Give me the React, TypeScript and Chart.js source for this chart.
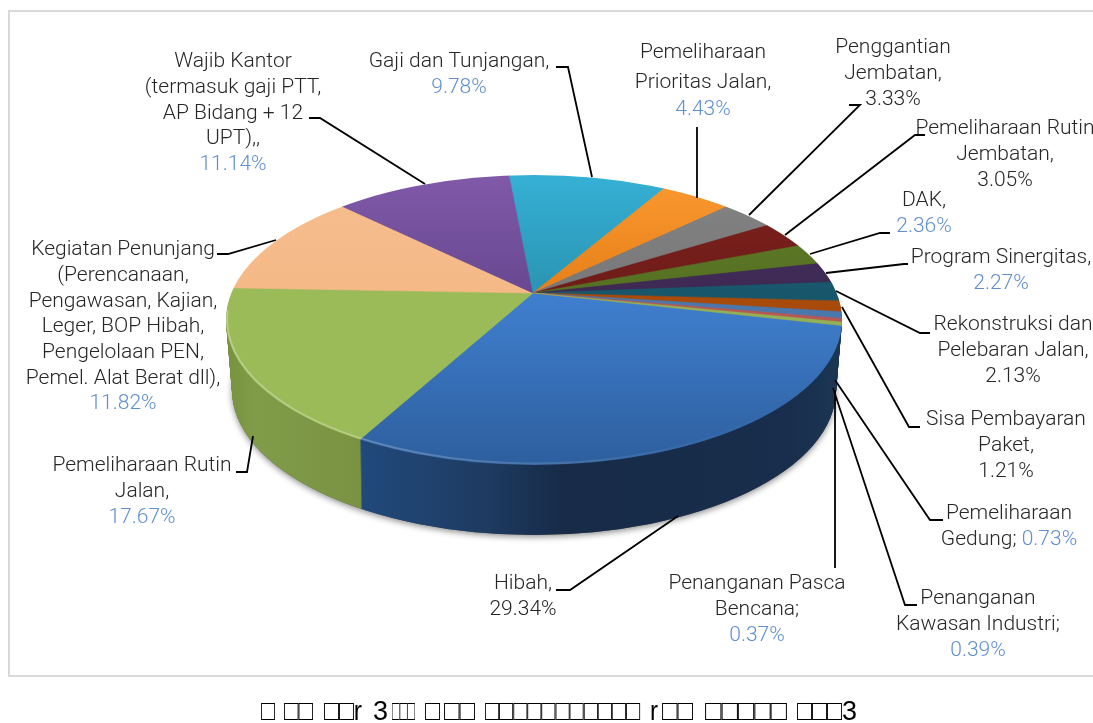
import React, { useEffect, useRef } from "react";
import { Chart, registerables } from "chart.js";

Chart.register(...registerables);

const categories = [
  "Hibah", "Pemeliharaan Rutin Jalan", "Kegiatan Penunjang", "Wajib Kantor", "Gaji dan Tunjangan",
  "Pemeliharaan Prioritas Jalan", "Penggantian Jembatan", "Pemeliharaan Rutin Jembatan", "DAK",
  "Program Sinergitas", "Rekonstruksi dan Pelebaran Jalan", "Sisa Pembayaran Paket",
  "Pemeliharaan Gedung", "Penanganan Kawasan Industri", "Penanganan Pasca Bencana",
];
const values = [29.34, 17.67, 11.82, 11.14, 9.78, 4.43, 3.33, 3.05, 2.36, 2.27, 2.13, 1.21, 0.73, 0.39, 0.37];

const faceLight = ["#3f7ecd", "#9bbb59", "#f7bd8c", "#8059a9", "#35b0d4", "#fb9a30", "#848484", "#7e211d", "#637f29", "#4a3263", "#1c6880", "#bd530b", "#5485bd", "#c4605f", "#9bbb59"];
const faceDark = ["#2d5f9e", "#9bbb59", "#f5b988", "#684890", "#2a94b3", "#e67f18", "#787878", "#6e1c19", "#557022", "#3e2953", "#18566b", "#a84a0a", "#4a78ad", "#b85856", "#93b154"];
const wallColor = ["#1b3352", "#7b9644", "#c49670", "#5a3f7c", "#248aa5", "#c4691a", "#5f5f5f", "#561815", "#425a1b", "#2f1f41", "#124454", "#7c3a08", "#35577f", "#8a3c3a", "#7a9644"];

const B = "\u25A1";
const captionRuns: [string, number, number][] = [
  [B, 261, 14], [B + B, 284, 29], [B + B + "r", 324, 38], ["3", 373, 15], [B + B + B, 392, 23], [B, 425, 15],
  [B + B, 444, 31], [B.repeat(11), 485, 155], ["r", 650, 8], [B + B, 662, 31], [B.repeat(5), 705, 82],
  [B.repeat(3), 797, 45], ["3", 842, 15],
];

const nameLines = [
  ["Hibah,"],
  ["Pemeliharaan Rutin", "Jalan,"],
  ["Kegiatan Penunjang", "(Perencanaan,", "Pengawasan, Kajian,", "Leger, BOP Hibah,", "Pengelolaan PEN,", "Pemel. Alat Berat dll),"],
  ["Wajib Kantor", "(termasuk gaji PTT,", "AP Bidang + 12", "UPT),,"],
  ["Gaji dan Tunjangan,"],
  ["Pemeliharaan", "Prioritas Jalan,"],
  ["Penggantian", "Jembatan,"],
  ["Pemeliharaan Rutin", "Jembatan,"],
  ["DAK,"],
  ["Program Sinergitas,"],
  ["Rekonstruksi dan", "Pelebaran Jalan,"],
  ["Sisa Pembayaran", "Paket,"],
  ["Pemeliharaan", "Gedung;"],
  ["Penanganan", "Kawasan Industri;"],
  ["Penanganan Pasca", "Bencana;"],
];
const darkValue = [true, false, false, false, false, false, true, true, false, false, true, true, false, false, false];
const inlineValue = [false, false, false, false, false, false, false, false, false, false, false, false, true, false, false];

// Layout of the annotation text and leader lines (not data)
const labelAnchor = [
  [523, 584], [142, 466], [123, 250], [233, 62], [459, 62], [703, 58], [893, 48], [1005, 129], [924, 201],
  [1001, 258], [1013, 325], [1006, 420], [1009, 514], [978, 599], [757, 584],
];
const firstLineShift: Record<number, number[]> = { 5: [-5, -1] };
const leaders = [
  [[556, 590], [570, 590], [678, 516]],
  [[236, 472], [247, 472], [253, 436]],
  [[217, 254], [228, 254], [276, 240]],
  [[309, 118], [320, 118], [425, 184]],
  [[556, 67], [568, 67], [592, 177]],
  [[697, 127], [697, 198]],
  [[849, 105], [860, 105], [749, 215]],
  [[925, 135], [915, 135], [785, 235]],
  [[890, 233], [880, 233], [810, 254]],
  [[908, 264], [904, 264], [826, 273]],
  [[930, 333], [920, 333], [836, 291]],
  [[920, 427], [909, 427], [842, 307]],
  [[943, 520], [930, 520], [835, 380]],
  [[917, 605], [905, 605], [833, 388]],
  [[835, 568], [835, 390]],
];

const APEX_X = 533, APEX_Y = 293, CX = 534, CY = 320, RX = 308, RY = 145, DEPTH = 70, TILT = 0.46, REACH = 420;
const FONT = "300 21px Roboto, 'Open Sans', sans-serif";
const TEXT_DARK = "#262626", TEXT_BLUE = "#5f8fce", LINE_H = 25.7;

const arcOptions = (fill: any, border: number) => ({
  backgroundColor: fill, borderColor: fill, borderWidth: border, borderAlign: "center",
  borderRadius: 0, spacing: 0, offset: 0, circular: true, borderJoinStyle: "round", borderDash: [], borderDashOffset: 0,
});

const pie3d = {
  id: "pie3d",
  beforeDatasetsDraw(chart: any) {
    const { ctx } = chart;
    const arcs = chart.getDatasetMeta(0).data as any[];
    const r = arcs[0].outerRadius, ax = arcs[0].x, ay = arcs[0].y, s = REACH / r;
    const lx = (sx: number) => ax + (sx - APEX_X) / s;
    const ly = (sy: number) => ay + (sy - APEX_Y) / (s * TILT);

    const layer = (d: number, rx: number, fills: any[], border: number) => {
      ctx.save();
      ctx.beginPath();
      ctx.ellipse(CX, CY + d, rx, RY, 0, 0, Math.PI * 2);
      ctx.clip();
      ctx.translate(APEX_X, APEX_Y + d);
      ctx.scale(s, s * TILT);
      ctx.translate(-ax, -ay);
      arcs.forEach((arc, i) => {
        const p = Object.create(arc);
        p.options = arcOptions(fills[i], border);
        p.draw(ctx);
      });
      ctx.restore();
    };

    // soft shadow under the body
    ctx.save();
    ctx.shadowColor = "rgba(0,0,0,0.45)";
    ctx.shadowBlur = 6;
    ctx.shadowOffsetY = 2;
    ctx.fillStyle = "#555";
    ctx.beginPath();
    ctx.ellipse(CX, CY + DEPTH, RX - 6, RY, 0, 0, Math.PI * 2);
    ctx.fill();
    ctx.restore();

    // wall
    const blue = ctx.createLinearGradient(lx(362), 0, lx(840), 0);
    blue.addColorStop(0, "#21497b");
    blue.addColorStop(0.25, "#1e3c62");
    blue.addColorStop(0.42, "#172b48");
    blue.addColorStop(0.9, "#182e4c");
    blue.addColorStop(1, "#1b3654");
    const green = ctx.createLinearGradient(lx(226), 0, lx(366), 0);
    green.addColorStop(0, "#76923f");
    green.addColorStop(0.2, "#809c49");
    green.addColorStop(1, "#799242");
    const wallFills = wallColor.map((c, i) => (i === 0 ? blue : i === 1 ? green : c));
    for (let d = DEPTH; d >= 1; d--) layer(d, RX - (6 * d) / DEPTH, wallFills, 0);

    // top face
    const topFills = faceLight.map((c, i) => {
      const g = i === 0
        ? ctx.createLinearGradient(0, ly(300), 0, ly(465))
        : ctx.createLinearGradient(0, ly(176), 0, ly(293));
      g.addColorStop(0, c);
      g.addColorStop(1, faceDark[i]);
      return g;
    });
    layer(0, RX, topFills, 0.6);

    // lit rim along the front edge, fading toward the right
    ctx.save();
    const rim = ctx.createLinearGradient(226, 0, 760, 0);
    rim.addColorStop(0, "rgba(255,255,255,0.28)");
    rim.addColorStop(0.3, "rgba(255,255,255,0.22)");
    rim.addColorStop(1, "rgba(255,255,255,0)");
    ctx.strokeStyle = rim;
    ctx.lineWidth = 2;
    ctx.beginPath();
    ctx.ellipse(CX, CY - 0.5, RX - 1, RY - 1, 0, Math.PI * 0.15, Math.PI * 1.02);
    ctx.stroke();
    ctx.restore();
    return false;
  },
  afterDraw(chart: any) {
    const { ctx } = chart;
    ctx.save();
    // frame
    ctx.strokeStyle = "#d9d9d9";
    ctx.lineWidth = 2;
    ctx.strokeRect(9, 11, 1086, 665);
    // leaders
    ctx.strokeStyle = "#000";
    ctx.lineWidth = 1.8;
    leaders.forEach((pts) => {
      ctx.beginPath();
      pts.forEach(([x, y], j) => (j ? ctx.lineTo(x, y) : ctx.moveTo(x, y)));
      ctx.stroke();
    });
    // labels
    ctx.font = FONT;
    ctx.textBaseline = "middle";
    ctx.textAlign = "left";
    categories.forEach((_, i) => {
      const [cx, y0] = labelAnchor[i];
      const val = values[i].toFixed(2) + "%";
      const lines = nameLines[i];
      const valColor = darkValue[i] ? TEXT_DARK : TEXT_BLUE;
      lines.forEach((line, k) => {
        const y = y0 + k * LINE_H + (firstLineShift[i]?.[k] ?? 0);
        if (inlineValue[i] && k === lines.length - 1) {
          const a = line + " ";
          const wa = ctx.measureText(a).width, wb = ctx.measureText(val).width;
          const x = cx - (wa + wb) / 2;
          ctx.fillStyle = TEXT_DARK;
          ctx.fillText(a, x, y);
          ctx.fillStyle = TEXT_BLUE;
          ctx.fillText(val, x + wa, y);
        } else {
          ctx.fillStyle = TEXT_DARK;
          ctx.fillText(line, cx - ctx.measureText(line).width / 2, y);
        }
      });
      if (!inlineValue[i]) {
        ctx.fillStyle = valColor;
        ctx.fillText(val, cx - ctx.measureText(val).width / 2, y0 + lines.length * LINE_H);
      }
    });
    // caption
    ctx.font = "28px 'Liberation Sans', sans-serif";
    ctx.fillStyle = "#000";
    captionRuns.forEach(([t, x, w]) => ctx.fillText(t, x, 712, w));
    ctx.restore();
  },
};

export default function App() {
  const ref = useRef<HTMLCanvasElement>(null);
  useEffect(() => {
    const chart = new Chart(ref.current as HTMLCanvasElement, {
      type: "pie",
      data: { labels: categories, datasets: [{ data: values, backgroundColor: faceLight, borderWidth: 0 }] },
      options: {
        responsive: false,
        animation: false,
        rotation: 102.9,
        plugins: { legend: { display: false }, tooltip: { enabled: false } },
      },
      plugins: [pie3d],
    } as any);
    return () => chart.destroy();
  }, []);
  return (
    <div style={{ position: "absolute", left: 0, top: 0, width: 1093, height: 723, background: "#fff" }}>
      <canvas ref={ref} width={1093} height={723} style={{ display: "block" }} />
    </div>
  );
}
